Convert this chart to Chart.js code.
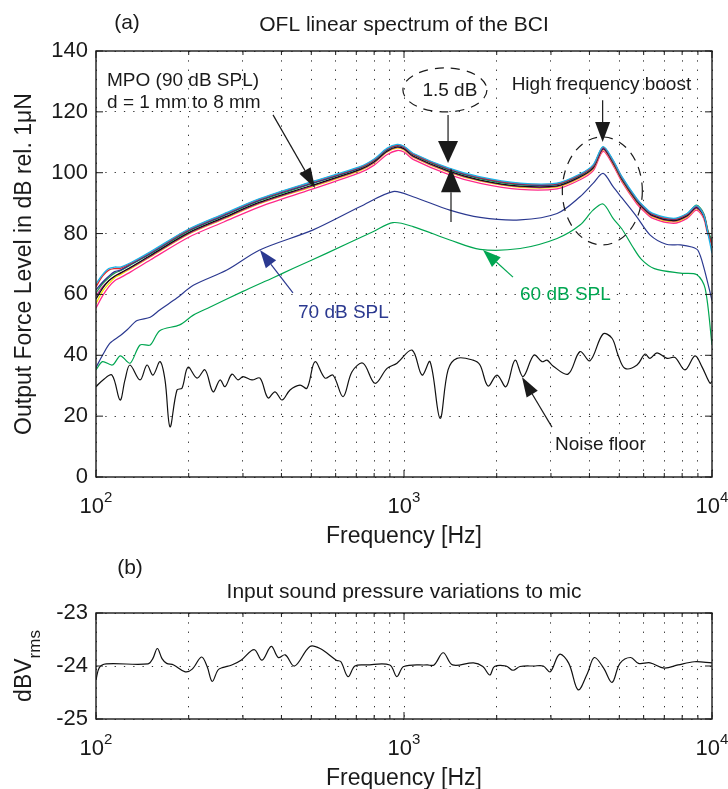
<!DOCTYPE html>
<html>
<head>
<meta charset="utf-8">
<title>OFL linear spectrum of the BCI</title>
<script src="https://cdn.jsdelivr.net/npm/chart.js@4.4.1/dist/chart.umd.min.js"></script>
<style>
  body { margin: 0; background: #fff; }
  #page { position: relative; width: 728px; height: 789px; overflow: hidden; }
  .box { position: absolute; left: 0; width: 728px; }
</style>
</head>
<body>
<div id="page">
  <div class="box" style="top:0;height:555px"><canvas id="oflChart"></canvas></div>
  <div class="box" style="top:550px;height:239px"><canvas id="micChart"></canvas></div>
</div>
<script>
// ---- data ----
const freqTicks = [100, 200, 300, 400, 500, 600, 700, 800, 900,
                   1000, 2000, 3000, 4000, 5000, 6000, 7000, 8000, 9000, 10000];
const oflTicks = [0, 20, 40, 60, 80, 100, 120, 140];
const micTicks = [-25, -24, -23];

// MPO (90 dB SPL), d = 1 mm to 8 mm, one curve per distance
const mpoFreq = [100, 105, 110, 115, 120, 130, 150, 200, 260, 340, 500, 720, 800, 880, 950, 1000, 1070,
                 1400, 1770, 2380, 3140, 3730, 4110, 4430, 4770, 5100, 5700, 6000, 6400, 7500, 8300,
                 8900, 9400, 9700, 10000];
const mpoCyan = [63.5, 66.5, 68.5, 69, 69, 70.5, 74, 81.5, 86.5, 91.5, 97, 102, 104.5, 108, 109.3, 108.7, 106.4,
                 101.5, 98.6, 96.6, 96.6, 99.6, 102.6, 108.6, 104.2, 98.7, 91.5, 89, 86.7, 85, 86.6,
                 89.2, 86.2, 80, 73.5];
const mpoRed = [62.5, 66, 68, 68.5, 68.6, 70.3, 73.8, 81.3, 86.3, 91.3, 96.8, 101.8, 104.3, 107.8, 109.1, 108.5, 106.2,
                101.3, 98.4, 96.4, 96.4, 99.4, 102.3, 108.3, 104, 98.5, 91.3, 88.8, 86.5, 84.8, 86.4,
                89, 86.3, 80.5, 76];
const mpoBlue = [61.5, 64, 66, 67.5, 68, 70, 73.5, 81, 86, 91, 96.5, 101.6, 104.1, 107.6, 108.9, 108.3, 106,
                 101.1, 98.2, 96.2, 96.2, 99.2, 102.1, 108.1, 103.8, 98.3, 91.1, 88.6, 86.3, 84.6, 86.2,
                 88.8, 86, 80.2, 76.5];
const mpoGreen = [60.5, 63.5, 65.5, 67, 67.8, 69.8, 73.3, 80.8, 85.8, 90.8, 96.3, 101.5, 104, 107.5, 108.9, 108.4, 105.9,
                  100.9, 98, 96, 96.1, 99.1, 102, 108.4, 103.7, 98.2, 91, 88.7, 86.4, 84.7, 86.4,
                  89.3, 86.6, 81, 77.5];
const mpoBlack = [58.5, 62, 64.5, 66, 67, 69, 72.8, 80.3, 85.3, 90.3, 95.8, 101.1, 103.6, 107.1, 108.5, 107.9, 105.5,
                  100.5, 97.6, 95.6, 95.7, 98.7, 101.6, 107.9, 103.4, 97.9, 90.7, 88.3, 86, 84.3, 85.9,
                  88.6, 85.9, 80.4, 77];
const mpoMagenta = [59.5, 62.5, 64.5, 66, 67, 68.8, 72.5, 80, 85, 90, 95.5, 100.9, 103.4, 106.9, 108.3, 107.7, 105.3,
                    100.3, 97.4, 95.4, 95.5, 98.5, 101.4, 107.7, 103.2, 97.7, 90.5, 88.1, 85.8, 84.1, 85.7,
                    88.4, 85.7, 80.2, 78];
const mpoYellow = [57, 61, 63.5, 65.5, 66.5, 68.5, 72.3, 79.8, 84.8, 89.8, 95.3, 100.7, 103.2, 106.7, 108.1, 107.5, 105.1,
                   100.1, 97.2, 95.2, 95.3, 98.3, 101.2, 107.5, 103, 97.5, 90.3, 87.9, 85.6, 83.9, 85.5,
                   88.2, 85.5, 80, 77.5];
const mpoPink = [55.5, 59.5, 62.5, 64.5, 65.5, 67.5, 71.3, 78.8, 83.8, 88.8, 94.5, 100, 102.5, 105.9, 107.3, 106.8, 104.4,
                 99.4, 96.5, 94.5, 94.7, 97.7, 100.6, 107, 102.5, 97, 89.8, 87.4, 85.1, 83.4, 85,
                 87.7, 85, 79.6, 78.5];

// 70 dB SPL input
const spl70Freq = [100, 105, 111, 120, 126, 136, 150, 161, 183, 207, 266, 340, 507, 719, 921, 1070, 1409, 1766,
                   2382, 3141, 3727, 4110, 4429, 4774, 5100, 5700, 6300, 7100, 7900, 8600, 9000, 9400, 10000];
const spl70 = [36, 40, 44, 46.5, 48.3, 51.4, 52.5, 54.9, 58.8, 63, 68, 74.6, 81.2, 88.8, 93.8, 92.1, 87.7, 85.3,
               84.5, 86.6, 92.1, 96.5, 99.8, 95.4, 91.7, 85.5, 79.5, 76.5, 76.3, 75.6, 74.5, 69, 58];

// 60 dB SPL input
const spl60Freq = [100, 105, 113, 120, 129, 139, 150, 161, 187, 207, 234, 300, 376, 436, 560, 793, 921, 1070,
                   1409, 1766, 2382, 3141, 3727, 4110, 4429, 4774, 5100, 5500, 5900, 6500, 7900, 8935, 9500, 10000];
const spl60 = [35.2, 37.9, 36.8, 39.8, 37.4, 43.4, 43.4, 48.1, 50, 53.2, 55.8, 61, 65.5, 68.5, 73.5, 80.6, 83.6, 82.3,
               77.9, 74.8, 75.1, 78.4, 82.8, 87.7, 89.7, 85, 81.5, 76, 71.5, 68.5, 67, 66.5, 62, 43.4];

// Noise floor
const noiseFreq = [100, 105.4, 112.7, 119.7, 124.2, 128.9, 139, 146.4, 153.1, 161.4, 167.5, 173.9, 183.2, 190.2,
                   198.9, 212.8, 225.9, 239.9, 252.7, 262.3, 276.4, 289.1, 300.1, 321, 340.8, 361.7, 381.3,
                   401.8, 426.6, 459.5, 484.3, 514, 554, 588, 634, 678, 736, 805, 881, 949, 1062, 1144, 1215,
                   1309, 1390, 1486, 1675, 1765, 1874, 2004, 2144, 2293, 2435, 2643, 2806, 2913, 3046, 3408,
                   3727, 4017, 4427, 4735, 4953, 5219, 5709, 6061, 6291, 6630, 7143, 7586, 8172, 8808, 9280,
                   9851, 10000];
const noise = [29.7, 31.9, 33.5, 25.3, 31.9, 36.8, 31.9, 36.8, 33.5, 37.9, 31.9, 16.5, 28.6, 29.2,
               36.1, 32.5, 35.2, 28, 31.9, 29.7, 33.8, 31.9, 33, 31.9, 32.5, 26, 28,
               25.3, 28.6, 30.2, 29.2, 37.9, 32.5, 33.5, 26.4, 34.6, 37.4, 30.8, 35.7, 37.4, 41.7, 33.5, 37.9,
               19.3, 35.2, 39, 38.4, 36.8, 29.9, 33.5, 29.7, 38.4, 33, 40.1, 37.9, 38.4, 36.5, 33.8,
               41.2, 38.2, 47, 45.6, 40.1, 35.7, 36.8, 40.4, 39, 40.8, 39, 39.3, 35.2, 39.8, 36.2,
               30.8, 31.5];

// (b) input sound pressure to mic, dBVrms
const micFreq = [100, 102.5, 107.9, 147.6, 152.9, 158.2, 163.8, 169.6, 178.7, 194.9, 205.3, 220.1, 229.5, 238.4,
                 248.6, 257.3, 275.9, 295.8, 326.1, 345.8, 370.7, 390.6, 411.6, 441.1, 494.9, 534, 603, 624,
                 658, 693, 756, 899, 948, 998, 1188, 1252, 1341, 1438, 1681, 1803, 1899, 1966, 2145, 2259,
                 2380, 2642, 2832, 2984, 3198, 3428, 3676, 3939, 4150, 4448, 4737, 5025, 5443, 5773, 6298,
                 6991, 7759, 8762, 10000];
const micLevel = [-24.26, -24.03, -23.96, -23.96, -23.86, -23.67, -23.86, -23.95, -23.98, -24.11, -24.06, -23.83,
                  -24.01, -24.29, -24.08, -24.03, -23.98, -23.89, -23.69, -23.89, -23.63, -23.84, -23.79, -24.0,
                  -23.63, -23.67, -23.89, -23.92, -24.2, -24.0, -23.98, -23.98, -24.2, -24.01, -23.98, -23.98,
                  -23.75, -23.98, -23.94, -24.01, -24.17, -24.01, -24.0, -24.08, -24.01, -24.0, -24.0, -24.11,
                  -23.78, -23.95, -24.45, -24.14, -23.84, -24.04, -24.31, -23.95, -23.84, -23.95, -23.94,
                  -24.04, -23.98, -23.92, -23.94];

// ---- helpers ----
const FONT = '"Liberation Sans", Arial, Helvetica, sans-serif';
const INK = '#1a1a1a';
Chart.defaults.font.family = FONT;

function pts(xs, ys) {
    return xs.map((x, i) => ({ x: x, y: ys[i] }));
}

function line(label, xs, ys, color, width, tension) {
    return {
        label: label,
        data: pts(xs, ys),
        borderColor: color,
        borderWidth: width,
        pointRadius: 0,
        tension: tension,
        fill: false
    };
}

function text(ctx, str, x, y, size, color, align, baseline) {
    ctx.font = size + 'px ' + FONT;
    ctx.fillStyle = color || INK;
    ctx.textAlign = align || 'left';
    ctx.textBaseline = baseline || 'alphabetic';
    ctx.fillText(str, x, y);
}

function arrow(ctx, x1, y1, x2, y2, color, headLen, headW) {
    const ang = Math.atan2(y2 - y1, x2 - x1);
    const bx = x2 - headLen * Math.cos(ang);
    const by = y2 - headLen * Math.sin(ang);
    ctx.strokeStyle = color;
    ctx.fillStyle = color;
    ctx.lineWidth = 1.2;
    ctx.setLineDash([]);
    ctx.beginPath();
    ctx.moveTo(x1, y1);
    ctx.lineTo(bx, by);
    ctx.stroke();
    ctx.beginPath();
    ctx.moveTo(x2, y2);
    ctx.lineTo(bx + headW / 2 * Math.sin(ang), by - headW / 2 * Math.cos(ang));
    ctx.lineTo(bx - headW / 2 * Math.sin(ang), by + headW / 2 * Math.cos(ang));
    ctx.closePath();
    ctx.fill();
}

function dashedEllipse(ctx, cx, cy, rx, ry) {
    ctx.strokeStyle = INK;
    ctx.lineWidth = 1.2;
    ctx.setLineDash([9, 7]);
    ctx.beginPath();
    ctx.ellipse(cx, cy, rx, ry, 0, 0, Math.PI * 2);
    ctx.stroke();
    ctx.setLineDash([]);
}

// MATLAB-like box: frame, inward ticks, 10^n labels, axis titles
const boxPlugin = {
    id: 'box',
    afterDatasetsDraw(chart, args, opts) {
        const { ctx, chartArea: a, scales: { x, y } } = chart;
        ctx.save();
        ctx.setLineDash([]);
        ctx.strokeStyle = INK;
        ctx.lineWidth = 1.4;
        ctx.strokeRect(a.left, a.top, a.right - a.left, a.bottom - a.top);

        ctx.lineWidth = 1;
        ctx.beginPath();
        freqTicks.forEach(f => {
            const px = x.getPixelForValue(f);
            const len = Number.isInteger(Math.log10(f)) ? 7 : 4;
            ctx.moveTo(px, a.bottom); ctx.lineTo(px, a.bottom - len);
            ctx.moveTo(px, a.top); ctx.lineTo(px, a.top + len);
        });
        opts.yTicks.forEach(v => {
            const py = y.getPixelForValue(v);
            ctx.moveTo(a.left, py); ctx.lineTo(a.left + 7, py);
            ctx.moveTo(a.right, py); ctx.lineTo(a.right - 7, py);
        });
        ctx.stroke();

        // decade labels 10^2, 10^3, 10^4
        freqTicks.filter(f => Number.isInteger(Math.log10(f))).forEach(f => {
            const px = x.getPixelForValue(f);
            const exp = String(Math.round(Math.log10(f)));
            ctx.font = '22px ' + FONT;
            const w1 = ctx.measureText('10').width;
            ctx.font = '15px ' + FONT;
            const w2 = ctx.measureText(exp).width;
            const x0 = px - (w1 + w2) / 2;
            const base = a.bottom + 36;
            text(ctx, '10', x0, base, 22);
            text(ctx, exp, x0 + w1, base - 11, 15);
        });

        // x axis title
        text(ctx, 'Frequency [Hz]', (a.left + a.right) / 2, a.bottom + 66, 23, INK, 'center');

        // panel letter and title
        text(ctx, opts.letter, opts.letterX, a.top - opts.letterGap, 21, INK, 'center');
        text(ctx, opts.title, (a.left + a.right) / 2, a.top - opts.titleGap, 21, INK, 'center');

        // y axis title (rotated)
        ctx.translate(0, (a.top + a.bottom) / 2);
        ctx.rotate(-Math.PI / 2);
        if (opts.ySub) {
            ctx.font = '23px ' + FONT;
            const w1 = ctx.measureText(opts.yTitle).width;
            ctx.font = '17px ' + FONT;
            const w2 = ctx.measureText(opts.ySub).width;
            const s = -(w1 + w2) / 2;
            text(ctx, opts.yTitle, s, 31, 23);
            text(ctx, opts.ySub, s + w1, 40, 17);
        } else {
            text(ctx, opts.yTitle, 0, 31, 23, INK, 'center');
        }
        ctx.restore();
    }
};

// annotations of panel (a), placed in data coordinates
const oflNotes = {
    id: 'oflNotes',
    afterDatasetsDraw(chart) {
        const { ctx, scales: { x, y } } = chart;
        const X = f => x.getPixelForValue(f);
        const Y = v => y.getPixelForValue(v);
        ctx.save();

        text(ctx, 'MPO (90 dB SPL)', X(108.6), Y(128.5), 19);
        text(ctx, 'd = 1 mm to 8 mm', X(108.6), Y(121.3), 19);
        arrow(ctx, X(375.6), Y(119), X(514), Y(95), INK, 20, 13);

        dashedEllipse(ctx, X(1358), Y(127.2), 42, 22);
        text(ctx, '1.5 dB', X(1409), Y(126.8), 19, INK, 'center', 'middle');
        arrow(ctx, X(1390), Y(119), X(1390), Y(103.2), INK, 22, 20);
        arrow(ctx, X(1421), Y(83.8), X(1421), Y(101.5), INK, 24, 20);

        text(ctx, 'High frequency boost', X(4375), Y(127.2), 19, INK, 'center');
        arrow(ctx, X(4415), Y(123.8), X(4415), Y(110.1), INK, 20, 15);
        dashedEllipse(ctx, X(4405), Y(94), 40, 54);

        text(ctx, '70 dB SPL', X(452.7), Y(52.3), 19, '#2b3990');
        arrow(ctx, X(436), Y(60.5), X(340.8), Y(74.6), '#2b3990', 18, 13);

        text(ctx, '60 dB SPL', X(2380), Y(58.2), 19, '#00a651');
        arrow(ctx, X(2259), Y(65.7), X(1805), Y(74.6), '#00a651', 18, 13);

        text(ctx, 'Noise floor', X(3090), Y(8.9), 19);
        arrow(ctx, X(3023), Y(16.4), X(2415), Y(32.9), INK, 20, 13);

        ctx.restore();
    }
};

function logX(height) {
    return {
        type: 'logarithmic',
        min: 100,
        max: 10000,
        afterBuildTicks: s => { s.ticks = freqTicks.map(v => ({ value: v })); },
        afterFit: s => { s.height = height; },
        ticks: { display: false },
        grid: { color: '#333333', lineWidth: 1, drawTicks: false },
        border: { display: false, dash: [1.3, 8] }
    };
}

function linY(min, max, ticks) {
    return {
        type: 'linear',
        min: min,
        max: max,
        afterBuildTicks: s => { s.ticks = ticks.map(v => ({ value: v })); },
        afterFit: s => { s.width = 96; },
        ticks: { color: INK, font: { size: 22 }, padding: 8 },
        grid: { color: '#333333', lineWidth: 1, drawTicks: false },
        border: { display: false, dash: [1.3, 8] }
    };
}

// ---- panel (a) ----
new Chart(document.getElementById('oflChart'), {
    type: 'line',
    data: {
        datasets: [
            line('MPO', mpoFreq, mpoCyan, '#1ab3e8', 1.3, 0.3),
            line('MPO', mpoFreq, mpoRed, '#e3242b', 1.3, 0.3),
            line('MPO', mpoFreq, mpoBlue, '#2e3192', 1.3, 0.3),
            line('MPO', mpoFreq, mpoGreen, '#1e9e48', 1.3, 0.3),
            line('MPO', mpoFreq, mpoBlack, '#111111', 1.3, 0.3),
            line('MPO', mpoFreq, mpoMagenta, '#c2268f', 1.3, 0.3),
            line('MPO', mpoFreq, mpoYellow, '#f5e400', 1.3, 0.3),
            line('MPO', mpoFreq, mpoPink, '#ff2a8a', 1.3, 0.3),
            line('70 dB SPL', spl70Freq, spl70, '#2b3990', 1.2, 0.3),
            line('60 dB SPL', spl60Freq, spl60, '#00a651', 1.2, 0.3),
            line('Noise floor', noiseFreq, noise, '#111111', 1.2, 0.35)
        ]
    },
    options: {
        responsive: true,
        maintainAspectRatio: false,
        animation: false,
        layout: { padding: { top: 51, right: 16, left: 0, bottom: 0 } },
        scales: {
            x: logX(78),
            y: linY(0, 140, oflTicks)
        },
        plugins: {
            legend: { display: false },
            tooltip: { enabled: false },
            box: {
                yTicks: oflTicks,
                yTitle: 'Output Force Level in dB rel. 1\u03bcN',
                letter: '(a)',
                letterX: 127,
                letterGap: 22,
                title: 'OFL linear spectrum of the BCI',
                titleGap: 20
            }
        }
    },
    plugins: [boxPlugin, oflNotes]
});

// ---- panel (b) ----
new Chart(document.getElementById('micChart'), {
    type: 'line',
    data: {
        datasets: [
            line('Input', micFreq, micLevel, '#111111', 1.2, 0.35)
        ]
    },
    options: {
        responsive: true,
        maintainAspectRatio: false,
        animation: false,
        layout: { padding: { top: 63, right: 16, left: 0, bottom: 0 } },
        scales: {
            x: logX(70),
            y: linY(-25, -23, micTicks)
        },
        plugins: {
            legend: { display: false },
            tooltip: { enabled: false },
            box: {
                yTicks: micTicks,
                yTitle: 'dBV',
                ySub: 'rms',
                letter: '(b)',
                letterX: 130,
                letterGap: 39,
                title: 'Input sound pressure variations to mic',
                titleGap: 15
            }
        }
    },
    plugins: [boxPlugin]
});
</script>
</body>
</html>
